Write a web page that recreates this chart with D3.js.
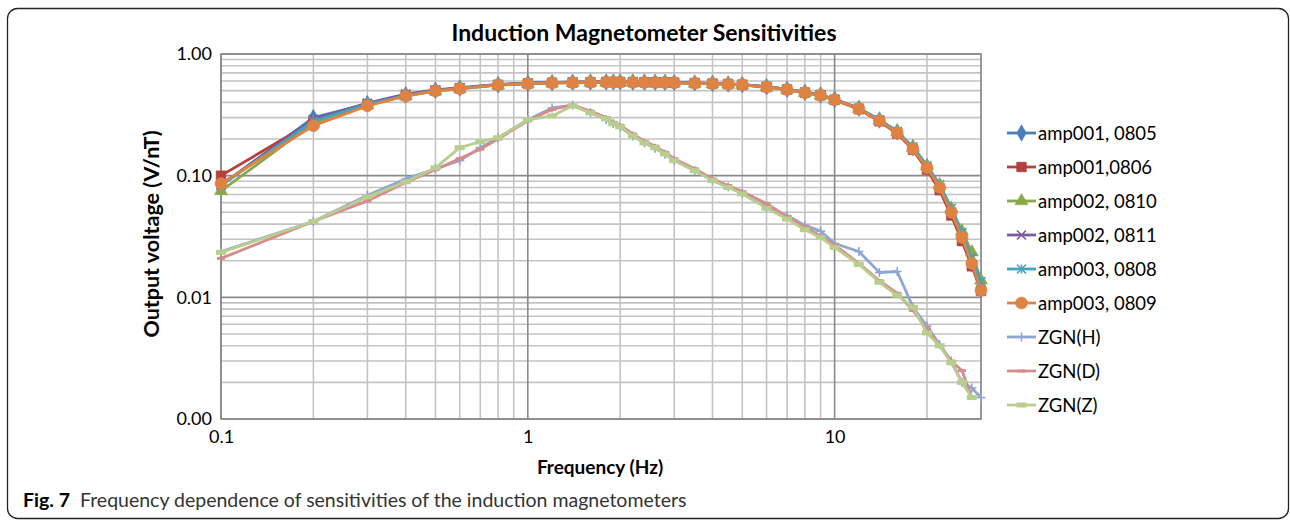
<!DOCTYPE html>
<meta charset="utf-8">
<html>
<head>
<title>Induction Magnetometer Sensitivities</title>
<style>
  body { margin: 0; background: #fff; }
  text { font-family: Lato, "Open Sans", sans-serif; fill: #000; }
</style>
</head>
<body>
<div id="chart"></div>
<script src="https://d3js.org/d3.v7.min.js"></script>
<script>

// frequencies (Hz) of the amplifier measurements
var ampFreq = [0.1,0.2,0.3,0.4,0.5,0.6,0.8,1,1.2,1.4,1.6,1.8,1.9,2,2.2,2.4,2.6,2.8,3,3.5,4,4.5,5,6,7,8,9,10,12,14,16,18,20,22,24,26,28,30];

// output voltage (V/nT) per amplifier
var amp001_0805 = [0.083,0.30,0.39,0.462,0.503,0.525,0.56,0.575,0.582,0.586,0.588,0.589,0.589,0.589,0.588,0.587,0.586,0.585,0.583,0.578,0.573,0.567,0.56,0.538,0.513,0.484,0.461,0.424,0.358,0.287,0.229,0.17,0.118,0.081,0.051,0.031,0.019,0.0116];
var amp001_0806 = [0.100,0.28,0.385,0.458,0.5,0.522,0.558,0.572,0.58,0.584,0.586,0.587,0.587,0.587,0.586,0.585,0.584,0.583,0.581,0.576,0.571,0.566,0.559,0.536,0.511,0.481,0.458,0.42,0.352,0.28,0.222,0.163,0.112,0.076,0.047,0.029,0.018,0.0113];
var amp002_0810 = [0.075,0.27,0.38,0.45,0.495,0.518,0.555,0.568,0.576,0.58,0.583,0.584,0.584,0.584,0.583,0.582,0.581,0.58,0.578,0.573,0.568,0.563,0.556,0.534,0.509,0.48,0.457,0.42,0.355,0.285,0.228,0.17,0.12,0.084,0.054,0.035,0.0235,0.0138];
var amp002_0811 = [0.084,0.29,0.395,0.468,0.506,0.528,0.562,0.576,0.583,0.587,0.589,0.59,0.59,0.59,0.589,0.588,0.587,0.586,0.584,0.579,0.574,0.568,0.561,0.539,0.514,0.485,0.462,0.425,0.357,0.286,0.228,0.168,0.117,0.080,0.050,0.031,0.0185,0.0115];
var amp003_0808 = [0.083,0.28,0.387,0.455,0.5,0.522,0.558,0.572,0.58,0.584,0.586,0.587,0.587,0.587,0.586,0.585,0.584,0.583,0.581,0.576,0.571,0.566,0.559,0.537,0.512,0.482,0.46,0.423,0.358,0.288,0.231,0.173,0.121,0.084,0.054,0.034,0.021,0.0135];
var amp003_0809 = [0.086,0.257,0.375,0.452,0.497,0.52,0.557,0.57,0.578,0.582,0.585,0.586,0.586,0.586,0.585,0.584,0.583,0.582,0.58,0.575,0.57,0.565,0.558,0.535,0.51,0.48,0.458,0.42,0.354,0.283,0.225,0.166,0.116,0.080,0.050,0.031,0.019,0.0114];

// frequencies (Hz) of the ZGN sensors
var zgnFreq = [0.1,0.2,0.3,0.4,0.5,0.6,0.7,0.8,1,1.2,1.4,1.6,1.8,1.9,2,2.2,2.4,2.6,2.8,3,3.5,4,4.5,5,6,7,8,9,10,12,14,16,18,20,22,24,26,28,30];
var zgnH = [0.0238,0.042,0.069,0.094,0.114,0.133,0.17,0.205,0.288,0.36,0.38,0.33,0.29,0.268,0.25,0.212,0.186,0.168,0.15,0.134,0.11,0.092,0.081,0.072,0.055,0.047,0.039,0.035,0.0277,0.0238,0.016,0.0163,0.0083,0.0058,0.0041,0.0030,0.0020,0.0018,0.0015];
var zgnD = [0.0209,0.042,0.062,0.088,0.112,0.138,0.165,0.2,0.282,0.35,0.38,0.34,0.30,0.275,0.26,0.22,0.192,0.175,0.156,0.138,0.114,0.094,0.083,0.074,0.059,0.046,0.038,0.032,0.027,0.019,0.0137,0.0108,0.0078,0.0055,0.0040,0.0030,0.0025,0.0015,null];
var zgnZ = [0.0234,0.042,0.067,0.089,0.116,0.17,0.19,0.205,0.288,0.31,0.375,0.328,0.293,0.267,0.252,0.213,0.186,0.17,0.151,0.133,0.11,0.091,0.08,0.071,0.054,0.044,0.036,0.031,0.0257,0.0186,0.0133,0.0104,0.0083,0.0051,0.0040,0.0029,0.0020,0.0015,null];

// axis ticks
var xTickValues = [0.1, 1, 10];
var xTickLabels = ["0.1", "1", "10"];
var yTickValues = [0.001, 0.01, 0.1, 1];
var yTickLabels = ["0.00", "0.01", "0.10", "1.00"];

var seriesNames = ["amp001, 0805", "amp001,0806", "amp002, 0810", "amp002, 0811", "amp003, 0808", "amp003, 0809", "ZGN(H)", "ZGN(D)", "ZGN(Z)"];

var series = [
  {name: seriesNames[0], freq: ampFreq, values: amp001_0805, color: "#4a7ebb", marker: "diamond"},
  {name: seriesNames[1], freq: ampFreq, values: amp001_0806, color: "#b3403d", marker: "square"},
  {name: seriesNames[2], freq: ampFreq, values: amp002_0810, color: "#8aa84a", marker: "triangle"},
  {name: seriesNames[3], freq: ampFreq, values: amp002_0811, color: "#7a5c9c", marker: "x"},
  {name: seriesNames[4], freq: ampFreq, values: amp003_0808, color: "#46a3bd", marker: "star"},
  {name: seriesNames[5], freq: ampFreq, values: amp003_0809, color: "#de8344", marker: "circle"},
  {name: seriesNames[6], freq: zgnFreq, values: zgnH, color: "#8ea6d1", marker: "plus"},
  {name: seriesNames[7], freq: zgnFreq, values: zgnD, color: "#d68c8c", marker: "dash"},
  {name: seriesNames[8], freq: zgnFreq, values: zgnZ, color: "#b9cd8f", marker: "bar"}
];

var W = 1290, H = 521;
var plot = {left: 221, right: 981, top: 54, bottom: 419};

var svg = d3.select("#chart").append("svg")
  .attr("width", W).attr("height", H);

svg.append("rect").attr("width", W).attr("height", H).attr("fill", "#fff");

// figure frame
svg.append("rect")
  .attr("x", 7.5).attr("y", 8.5)
  .attr("width", 1281).attr("height", 510)
  .attr("rx", 10).attr("ry", 10)
  .attr("fill", "none").attr("stroke", "#222").attr("stroke-width", 1.3);

var x = d3.scaleLog().domain([0.1, 30]).range([plot.left, plot.right]);
var y = d3.scaleLog().domain([0.001, 1]).range([plot.bottom, plot.top]);

function isMajor(v) {
  var l = Math.log10(v);
  return Math.abs(l - Math.round(l)) < 1e-9;
}

// gridlines, minor first then major
var grid = svg.append("g");
var xg = x.ticks(), yg = y.ticks();
grid.selectAll(".vminor").data(xg.filter(function(d) { return !isMajor(d); }))
  .enter().append("line")
    .attr("x1", function(d) { return x(d); }).attr("x2", function(d) { return x(d); })
    .attr("y1", plot.top).attr("y2", plot.bottom)
    .attr("stroke", "#c3c3c3").attr("stroke-width", 1.6);
grid.selectAll(".hminor").data(yg.filter(function(d) { return !isMajor(d); }))
  .enter().append("line")
    .attr("y1", function(d) { return y(d); }).attr("y2", function(d) { return y(d); })
    .attr("x1", plot.left).attr("x2", plot.right)
    .attr("stroke", "#c3c3c3").attr("stroke-width", 1.6);
grid.selectAll(".vmajor").data(xg.filter(isMajor))
  .enter().append("line")
    .attr("x1", function(d) { return x(d); }).attr("x2", function(d) { return x(d); })
    .attr("y1", plot.top).attr("y2", plot.bottom)
    .attr("stroke", "#8a8a8a").attr("stroke-width", 1.6);
grid.selectAll(".hmajor").data(yg.filter(isMajor))
  .enter().append("line")
    .attr("y1", function(d) { return y(d); }).attr("y2", function(d) { return y(d); })
    .attr("x1", plot.left).attr("x2", plot.right)
    .attr("stroke", "#8a8a8a").attr("stroke-width", 1.6);

// plot border
svg.append("rect")
  .attr("x", plot.left).attr("y", plot.top)
  .attr("width", plot.right - plot.left).attr("height", plot.bottom - plot.top)
  .attr("fill", "none").attr("stroke", "#8a8a8a").attr("stroke-width", 1.6);

// axes
var xAxis = svg.append("g")
  .attr("transform", "translate(0," + plot.bottom + ")")
  .call(d3.axisBottom(x).tickValues(xTickValues)
    .tickFormat(function(d, i) { return xTickLabels[i]; }).tickSize(0).tickPadding(11));
var yAxis = svg.append("g")
  .attr("transform", "translate(" + plot.left + ",0)")
  .call(d3.axisLeft(y).tickValues(yTickValues)
    .tickFormat(function(d, i) { return yTickLabels[i]; }).tickSize(0).tickPadding(9));
[xAxis, yAxis].forEach(function(a) {
  a.select(".domain").remove();
  a.selectAll("text").style("font-family", "Lato").style("font-size", "18px").attr("fill", "#000");
});

// marker drawing
function drawMarker(g, type, color, cx, cy) {
  var sym = null;
  if (type == "diamond") sym = d3.symbol(d3.symbolDiamond, 80);
  if (type == "square") sym = d3.symbol(d3.symbolSquare, 95);
  if (type == "triangle") sym = d3.symbol(d3.symbolTriangle, 75);
  if (type == "circle") sym = d3.symbol(d3.symbolCircle, 115);
  if (sym) {
    g.append("path").attr("d", sym()).attr("transform", "translate(" + cx + "," + cy + ")")
      .attr("fill", color).attr("stroke", color).attr("stroke-width", 0.5);
    return;
  }
  var s = 4.5, p = [];
  if (type == "x" || type == "star") p.push([-s, -s, s, s], [-s, s, s, -s]);
  if (type == "star") p.push([0, -s, 0, s]);
  if (type == "plus") p.push([-s, 0, s, 0], [0, -s, 0, s]);
  if (type == "dash") p.push([-4, 0, 4, 0]);
  if (type == "bar") p.push([-5, 0, 5, 0]);
  p.forEach(function(l) {
    g.append("line")
      .attr("x1", cx + l[0]).attr("y1", cy + l[1]).attr("x2", cx + l[2]).attr("y2", cy + l[3])
      .attr("stroke", color)
      .attr("stroke-width", type == "bar" ? 5 : (type == "dash" ? 3 : 1.6));
  });
}

var line = d3.line()
  .defined(function(d) { return d.v != null; })
  .x(function(d) { return x(d.f); })
  .y(function(d) { return y(d.v); });

series.forEach(function(s) {
  var pts = s.freq.map(function(f, i) { return {f: f, v: s.values[i]}; });
  var g = svg.append("g");
  g.append("path").datum(pts)
    .attr("fill", "none").attr("stroke", s.color)
    .attr("stroke-width", 2.8).attr("stroke-linejoin", "round")
    .attr("d", line);
  pts.filter(function(d) { return d.v != null; }).forEach(function(d) {
    drawMarker(g, s.marker, s.color, x(d.f), y(d.v));
  });
});

// legend
var legend = svg.append("g");
series.forEach(function(s, i) {
  var ly = 133 + i * 34;
  legend.append("line")
    .attr("x1", 1007).attr("x2", 1036).attr("y1", ly).attr("y2", ly)
    .attr("stroke", s.color).attr("stroke-width", 2.8);
  drawMarker(legend, s.marker, s.color, 1021.5, ly);
  legend.append("text")
    .attr("x", 1038).attr("y", ly).attr("dy", "0.36em")
    .style("font-size", "18.5px")
    .text(s.name);
});

// titles
svg.append("text")
  .attr("x", 644).attr("y", 41).attr("text-anchor", "middle")
  .style("font-size", "23px").style("font-weight", "bold")
  .text("Induction Magnetometer Sensitivities");

svg.append("text")
  .attr("x", 600).attr("y", 474).attr("text-anchor", "middle")
  .style("font-size", "19px").style("font-weight", "bold")
  .text("Frequency (Hz)");

svg.append("text")
  .attr("transform", "translate(159,234) rotate(-90)")
  .attr("text-anchor", "middle")
  .style("font-size", "21.5px").style("font-weight", "bold")
  .text("Output voltage (V/nT)");

// caption
var cap = svg.append("text").attr("x", 23).attr("y", 507).style("font-size", "19.5px");
cap.append("tspan").style("font-weight", "bold").text("Fig. 7");
cap.append("tspan").attr("dx", 10).style("fill", "#333").text("Frequency dependence of sensitivities of the induction magnetometers");

</script>
</body>
</html>
